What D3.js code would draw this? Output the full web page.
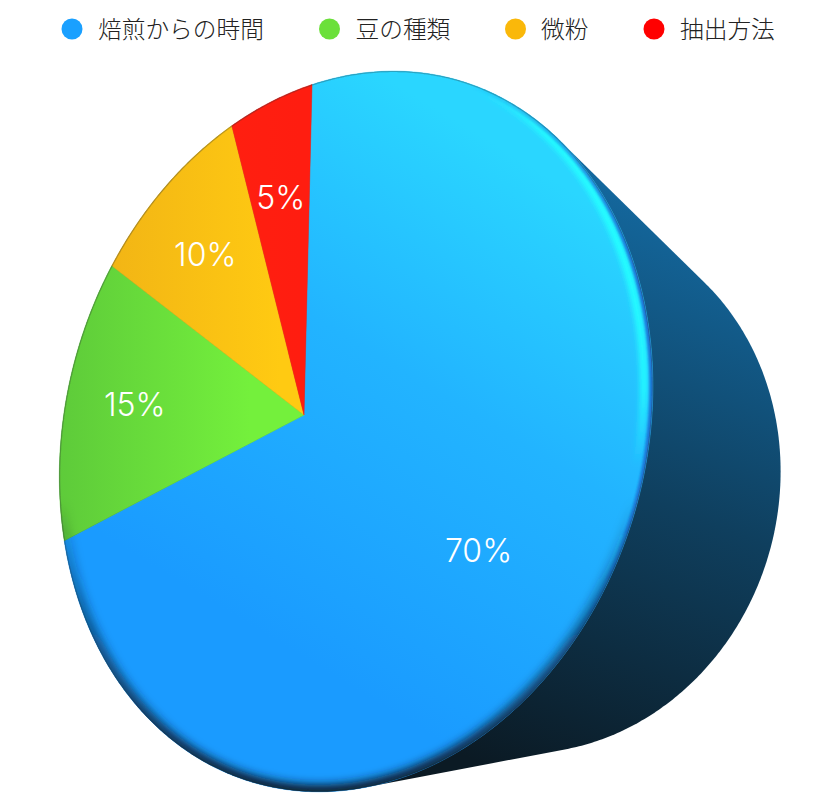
<!DOCTYPE html>
<html><head><meta charset="utf-8">
<script src="https://cdn.jsdelivr.net/npm/d3@7/dist/d3.min.js"></script>
<style>html,body{margin:0;padding:0;background:#fff}svg{display:block}</style>
</head><body><div id="c"></div>
<script>
const categories = ["焙煎からの時間","豆の種類","微粉","抽出方法"];
const values = [70,15,10,5];
const labels = ["70%","15%","10%","5%"];
const legendColors = ["#1aa0ff","#6be03a","#fab80a","#ff0000"];
const legendDot = [72,329.5,515.5,654];
const legendText = [98,355.5,541,680];
const sliceStops = [
 [[0,"#2ad6ff"],[0.45,"#22b4ff"],[1,"#1a9bff"]],
 [[0,"#5ecb3a"],[1,"#74f03c"]],
 [[0,"#f2b515"],[1,"#ffca12"]],
 [[0,"#ff1f10"],[1,"#ff1d10"]]
];
const sliceGrad = [[620,220,340,680],[60,0,250,0],[110,0,280,0],[230,0,300,0]];

const W=838,H=810;
const svg=d3.select("#c").append("svg").attr("width",W).attr("height",H).attr("viewBox",`0 0 ${W} ${H}`);
const defs=svg.append("defs");

// projective map of the unit disc (u,v,z=0 front, z=1 back)
const M={a:233,b:-28,c:304,d:-111,e:325,f:415,g:-0.177,h:-0.064,tx:378,ty:228,tz:0.35};
function proj(r,ang,z){
  const u=r*Math.sin(ang),v=-r*Math.cos(ang);
  const D=M.g*u+M.h*v+1+M.tz*z;
  return [(M.a*u+M.b*v+M.c+M.tx*z)/D,(M.d*u+M.e*v+M.f+M.ty*z)/D];
}
const pie=d3.pie().sort(null).value(d=>d)(values);
const line=d3.line();
const arcPts=(s,e,z)=>{const n=Math.max(2,Math.ceil((e-s)/0.01));return d3.range(n+1).map(i=>proj(1,s+(e-s)*i/n,z));};
const full=arcPts(0,2*Math.PI,0), back=arcPts(0,2*Math.PI,1);
const discPath=line(full)+"Z";

function lg(id,c,stops){
  const g=defs.append("linearGradient").attr("id",id).attr("gradientUnits","userSpaceOnUse")
   .attr("x1",c[0]).attr("y1",c[1]).attr("x2",c[2]).attr("y2",c[3]);
  stops.forEach(s=>{const st=g.append("stop").attr("offset",s[0]).attr("stop-color",s[1]);if(s[2]!=null)st.attr("stop-opacity",s[2]);});
}
sliceStops.forEach((s,i)=>lg("sl"+i,sliceGrad[i],s));
lg("side",[720,200,500,770],[[0,"#146ba3"],[0.5,"#0f3f5e"],[1,"#0b1a24"]]);
lg("rimWide",[0,500,0,790],[[0,"#0b1c2c",0],[0.5,"#0b2a48",0.65],[1,"#0b1c2c",1]]);
lg("rimBlue",[470,0,640,0],[[0,"#1a78d8",0],[1,"#1a78d8",1]]);
const rg=defs.append("radialGradient").attr("id","cy").attr("gradientUnits","userSpaceOnUse").attr("cx",610).attr("cy",260).attr("r",210);
rg.append("stop").attr("offset",0).attr("stop-color","#2ff").attr("stop-opacity",1);
rg.append("stop").attr("offset",0.65).attr("stop-color","#2ff").attr("stop-opacity",.85);
rg.append("stop").attr("offset",1).attr("stop-color","#2ff").attr("stop-opacity",0);
defs.append("clipPath").attr("id","disc").append("path").attr("d",discPath);
[["b4",5],["b2",2.8],["b1",1.2],["b0",0.6]].forEach(f=>{
  defs.append("filter").attr("id",f[0]).attr("x","-10%").attr("y","-10%").attr("width","120%").attr("height","120%").append("feGaussianBlur").attr("stdDeviation",f[1]);
});

// extruded body
svg.append("path").attr("d",line(d3.polygonHull(full.concat(back)))+"Z").attr("fill","url(#side)");

// slices
svg.append("g").selectAll("path").data(pie).join("path")
 .attr("d",d=>line([proj(0,0,0)].concat(arcPts(d.startAngle,d.endAngle,0)))+"Z")
 .attr("fill",(d,i)=>`url(#sl${i})`).attr("stroke",(d,i)=>`url(#sl${i})`).attr("stroke-width",.5);

// bevel
const bevel=svg.append("g").attr("clip-path","url(#disc)");
const rim=(stroke,w,f,op,tr)=>bevel.append("path").attr("d",discPath).attr("fill","none")
  .attr("stroke",stroke).attr("stroke-width",w).attr("filter",`url(#${f})`).attr("stroke-opacity",op).attr("transform",tr||null);
rim("url(#cy)",8,"b2",1,"translate(-9,-1)");
rim("url(#rimBlue)",7,"b1",1);
rim("#30302a",2,"b0",0.3);
rim("url(#rimWide)",14,"b4",1);

// value labels
const labelR=0.675;
svg.append("g").selectAll("text").data(pie).join("text")
 .attr("transform",d=>{const p=proj(labelR,(d.startAngle+d.endAngle)/2,0);return `translate(${p[0]},${p[1]})`;})
 .attr("text-anchor","middle").attr("dy","0.36em").attr("fill","#fff")
 .attr("font-family","Inter, Lato, sans-serif").attr("font-weight",300).attr("font-size",32)
 .text((d,i)=>labels[i]);

// legend
const lgd=svg.append("g").selectAll("g").data(categories).join("g");
lgd.append("circle").attr("cx",(d,i)=>legendDot[i]).attr("cy",29).attr("r",10.5).attr("fill",(d,i)=>legendColors[i]);
lgd.append("text").attr("x",(d,i)=>legendText[i]).attr("y",29).attr("dy","0.36em").attr("fill","#222")
 .attr("font-family","'Noto Sans CJK JP',sans-serif").attr("font-weight",300).attr("font-size",23.7).text(d=>d);
</script></body></html>
